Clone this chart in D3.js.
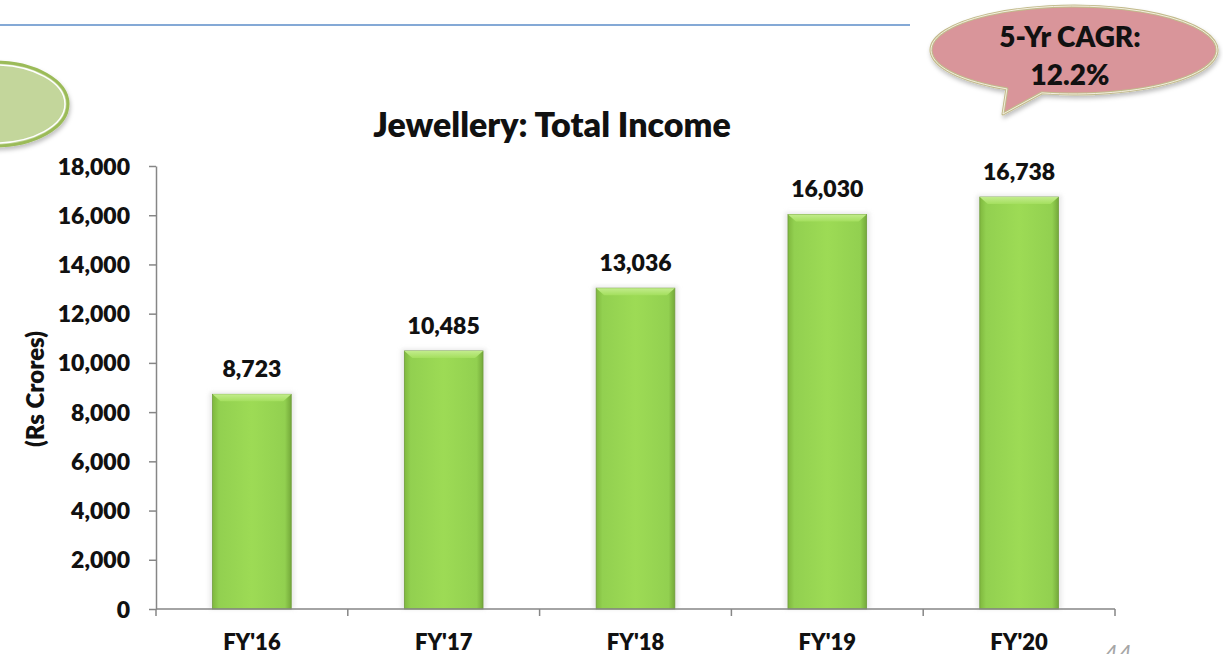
<!DOCTYPE html>
<html>
<head>
<meta charset="utf-8">
<script src="https://cdn.jsdelivr.net/npm/d3@7/dist/d3.min.js"></script>
<style>
  html, body { margin: 0; padding: 0; background: #ffffff; }
  svg { display: block; }
  text { font-family: Lato, "Open Sans", sans-serif; }
</style>
</head>
<body>
<svg id="chart" width="1223" height="654"></svg>
<script>
// ---- data ----
const categories = ["FY'16", "FY'17", "FY'18", "FY'19", "FY'20"];
const values = [8723, 10485, 13036, 16030, 16738];
const yTickValues = [0, 2000, 4000, 6000, 8000, 10000, 12000, 14000, 16000, 18000];
const chartTitle = "Jewellery: Total Income";
const yAxisTitle = "(Rs Crores)";
const cagrLines = ["5-Yr CAGR:", "12.2%"];
const pageNumber = "44";

const W = 800; // bold weight used for all labels

const svg = d3.select("#chart");
const defs = svg.append("defs");

// gradients
const barGrad = defs.append("linearGradient").attr("id", "barGrad").attr("x1", 0).attr("x2", 1).attr("y1", 0).attr("y2", 0);
[[0, "#7fb83e"], [0.08, "#92d050"], [0.5, "#9ddb55"], [0.92, "#92d050"], [1, "#74a93a"]]
  .forEach(([o, c]) => barGrad.append("stop").attr("offset", o).attr("stop-color", c));
const topGrad = defs.append("linearGradient").attr("id", "topGrad").attr("x1", 0).attr("x2", 0).attr("y1", 0).attr("y2", 1);
[[0, "#c2ec8c"], [1, "#a4df5e"]].forEach(([o, c]) => topGrad.append("stop").attr("offset", o).attr("stop-color", c));

const blur = defs.append("filter").attr("id", "soft").attr("x", "-20%").attr("y", "-20%").attr("width", "140%").attr("height", "140%");
blur.append("feGaussianBlur").attr("stdDeviation", 2);
const bubbleShadow = defs.append("filter").attr("id", "bshadow").attr("x", "-10%").attr("y", "-10%").attr("width", "120%").attr("height", "140%");
bubbleShadow.append("feDropShadow").attr("dx", 1).attr("dy", 3).attr("stdDeviation", 2).attr("flood-color", "#000").attr("flood-opacity", 0.25);

// ---- decorative slide elements ----
svg.append("line").attr("x1", 0).attr("x2", 910).attr("y1", 25).attr("y2", 25)
  .attr("stroke", "#5b8cc8").attr("stroke-width", 1.5);

// green ellipse at left (partially off-slide)
svg.append("ellipse").attr("cx", -6).attr("cy", 104).attr("rx", 74).attr("ry", 42)
  .attr("fill", "#c3d69b").attr("stroke", "#9bbb59").attr("stroke-width", 3).attr("filter", "url(#bshadow)");
svg.append("ellipse").attr("cx", -6).attr("cy", 104).attr("rx", 71).attr("ry", 39)
  .attr("fill", "none").attr("stroke", "#ffffff").attr("stroke-width", 1.5);

// speech bubble top right
(function () {
  const cx = 1074, cy = 50, rx = 143, ry = 44;
  const pt = a => [cx + rx * Math.cos(a * Math.PI / 180), cy + ry * Math.sin(a * Math.PI / 180)];
  const p1 = pt(103), p2 = pt(118), tip = [1003, 114];
  const d = `M${p1[0]},${p1[1]} A${rx},${ry} 0 1 0 ${p2[0]},${p2[1]} L${tip[0]},${tip[1]} Z`;
  svg.append("path").attr("d", d).attr("fill", "#d9959a").attr("stroke", "#c2bb8c")
    .attr("stroke-width", 3).attr("stroke-linejoin", "round").attr("filter", "url(#bshadow)");
  svg.append("path").attr("d", d).attr("fill", "none").attr("stroke", "#f4efe0")
    .attr("stroke-width", 1).attr("stroke-linejoin", "round");
  svg.selectAll(".cagr").data(cagrLines).join("text").attr("class", "cagr")
    .attr("x", 1070).attr("y", (d, i) => 47 + i * 38)
    .attr("text-anchor", "middle").attr("font-weight", W).attr("font-size", 28)
    .attr("fill", "#111").text(d => d);
})();

// ---- chart ----
const x = d3.scaleBand().domain(categories).range([156, 1115]).paddingInner(0.59).paddingOuter(0.295);
const y = d3.scaleLinear().domain([0, 18000]).range([609, 166]);
const axisColor = "#868686";

// title
svg.append("text").attr("x", 552).attr("y", 137).attr("text-anchor", "middle")
  .attr("font-weight", W).attr("font-size", 34).attr("fill", "#111").text(chartTitle);

// y axis
const yAxis = svg.append("g").attr("transform", "translate(156,0)")
  .call(d3.axisLeft(y).tickValues(yTickValues).tickFormat(d3.format(",")).tickSizeInner(7).tickSizeOuter(0).tickPadding(19));
yAxis.select(".domain").attr("stroke", axisColor).attr("stroke-width", 1.5);
yAxis.selectAll(".tick line").attr("stroke", axisColor).attr("stroke-width", 1.5);
yAxis.selectAll(".tick text").attr("font-family", "Lato, sans-serif").attr("font-size", 23)
  .attr("font-weight", W).attr("fill", "#111").attr("dy", "0.35em");

// y title
svg.append("text").attr("transform", "translate(44,389) rotate(-90)").attr("text-anchor", "middle")
  .attr("font-weight", W).attr("font-size", 24).attr("fill", "#111").text(yAxisTitle);

// bars: soft shadow, body, bevel top
const step = x.step(), bw = x.bandwidth();
const barG = svg.append("g");
barG.selectAll(".shadow").data(values).join("rect").attr("class", "shadow")
  .attr("x", (d, i) => x(categories[i]) - 3).attr("y", d => y(d) - 2)
  .attr("width", bw + 6).attr("height", d => y(0) - y(d) + 2)
  .attr("fill", "#d8d8d8").attr("opacity", 0.6).attr("filter", "url(#soft)");
barG.selectAll(".bar").data(values).join("rect").attr("class", "bar")
  .attr("x", (d, i) => x(categories[i])).attr("y", d => y(d))
  .attr("width", bw).attr("height", d => y(0) - y(d))
  .attr("fill", "url(#barGrad)").attr("stroke", "#6f9d3a").attr("stroke-width", 0.8);
barG.selectAll(".bevel").data(values).join("path").attr("class", "bevel")
  .attr("d", (d, i) => {
    const x0 = x(categories[i]), y0 = y(d);
    return `M${x0},${y0} L${x0 + bw},${y0} L${x0 + bw - 8},${y0 + 7} L${x0 + 8},${y0 + 7} Z`;
  })
  .attr("fill", "url(#topGrad)");

// value labels
svg.selectAll(".vlabel").data(values).join("text").attr("class", "vlabel")
  .attr("x", (d, i) => x(categories[i]) + bw / 2).attr("y", d => y(d) - 17)
  .attr("text-anchor", "middle").attr("font-weight", W).attr("font-size", 23)
  .attr("fill", "#111").text(d => d3.format(",")(d));

// x axis
const xAxisG = svg.append("g");
xAxisG.append("line").attr("x1", 156).attr("x2", 1115).attr("y1", y(0)).attr("y2", y(0))
  .attr("stroke", axisColor).attr("stroke-width", 1.5);
const boundaries = categories.map(c => x(c) - (step - bw) / 2).concat([x(categories[categories.length - 1]) + bw + (step - bw) / 2]);
xAxisG.selectAll(".xtick").data(boundaries).join("line").attr("class", "xtick")
  .attr("x1", d => d).attr("x2", d => d).attr("y1", y(0)).attr("y2", y(0) + 7)
  .attr("stroke", axisColor).attr("stroke-width", 1.5);
xAxisG.selectAll(".xlabel").data(categories).join("text").attr("class", "xlabel")
  .attr("x", d => x(d) + bw / 2).attr("y", 650).attr("text-anchor", "middle")
  .attr("font-weight", W).attr("font-size", 22).attr("fill", "#111").text(d => d);

// page number (partially cut at slide bottom, as in the source)
svg.append("text").attr("x", 1104).attr("y", 662).attr("font-style", "italic")
  .attr("font-size", 24).attr("fill", "#a6a6a6").text(pageNumber);
</script>
</body>
</html>
